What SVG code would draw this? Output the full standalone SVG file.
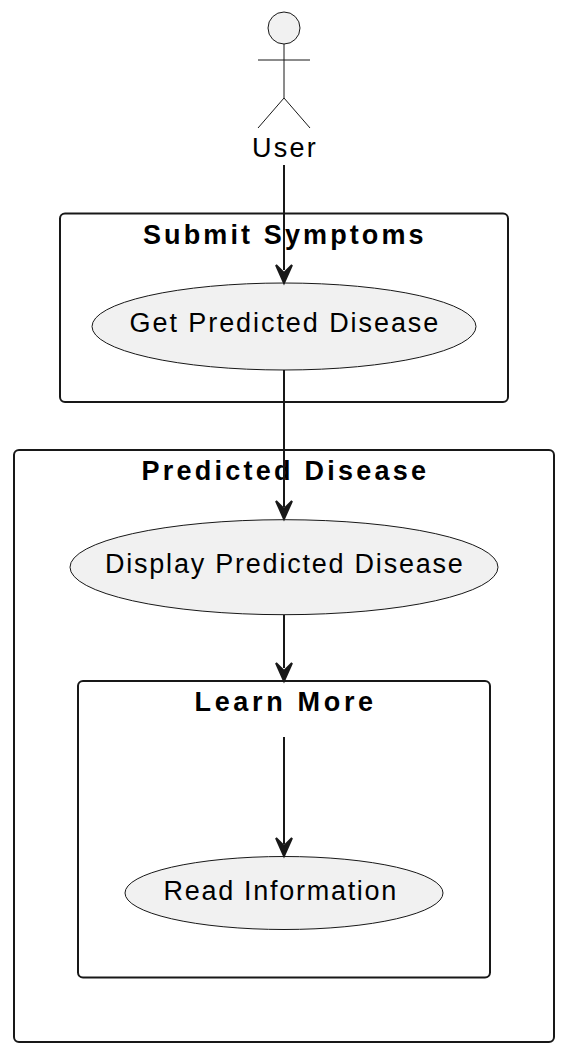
<svg xmlns="http://www.w3.org/2000/svg" width="566" height="1052" viewBox="0 0 566 1052">
<style>
text{font-family:"Liberation Sans",Arial,sans-serif;fill:#000}
.lbl{font-size:27px;letter-spacing:1.2px}
.ttl{font-size:27px;font-weight:700;letter-spacing:2.4px}
.box{fill:none;stroke:#181818;stroke-width:2}
.uc{fill:#F1F1F1;stroke:#181818;stroke-width:1}
.act{fill:none;stroke:#181818;stroke-width:1}
.con{fill:none;stroke:#181818;stroke-width:2}
.hd{fill:#181818;stroke:#181818;stroke-width:2}
</style>
<rect width="566" height="1052" fill="#fff"/>
<g id="pkg-submit"><rect class="box" x="60" y="213.500" width="448" height="188.500" rx="5"/><text class="ttl" x="143" y="244" textLength="283">Submit Symptoms</text></g>
<g id="pkg-predicted"><rect class="box" x="14" y="450" width="540" height="592" rx="5"/><text class="ttl" x="141.500" y="480" textLength="287">Predicted Disease</text></g>
<g id="pkg-learn"><rect class="box" x="78" y="681" width="412" height="296.500" rx="5"/><text class="ttl" x="194.500" y="711" textLength="181">Learn More</text></g>
<g id="actor-user"><circle cx="284" cy="28" r="16" fill="#F1F1F1" stroke="#181818" stroke-width="1"/><path class="act" d="M284 44V98M258 60H310M284 98L258 128M284 98L310 128"/><text class="lbl" x="252" y="157" textLength="65">User</text></g>
<g id="uc-get"><ellipse class="uc" cx="284" cy="326.500" rx="192" ry="43.500"/><text class="lbl" x="129.500" y="332" textLength="310">Get Predicted Disease</text></g>
<g id="uc-display"><ellipse class="uc" cx="284" cy="567.200" rx="214" ry="47.500"/><text class="lbl" x="105" y="573" textLength="359">Display Predicted Disease</text></g>
<g id="uc-read"><ellipse class="uc" cx="284" cy="893" rx="159" ry="36.500"/><text class="lbl" x="163.500" y="900" textLength="234">Read Information</text></g>
<g id="connectors">
<path class="con" d="M284 165V270"/><path class="hd" d="M284 283L276 265L284 273L292 265Z"/>
<path class="con" d="M284 370V507"/><path class="hd" d="M284 519L276 501L284 509L292 501Z"/>
<path class="con" d="M284 615V668"/><path class="hd" d="M284 681L276 663L284 671L292 663Z"/>
<path class="con" d="M284 737V844"/><path class="hd" d="M284 856L276 838L284 846L292 838Z"/>
</g>
</svg>
